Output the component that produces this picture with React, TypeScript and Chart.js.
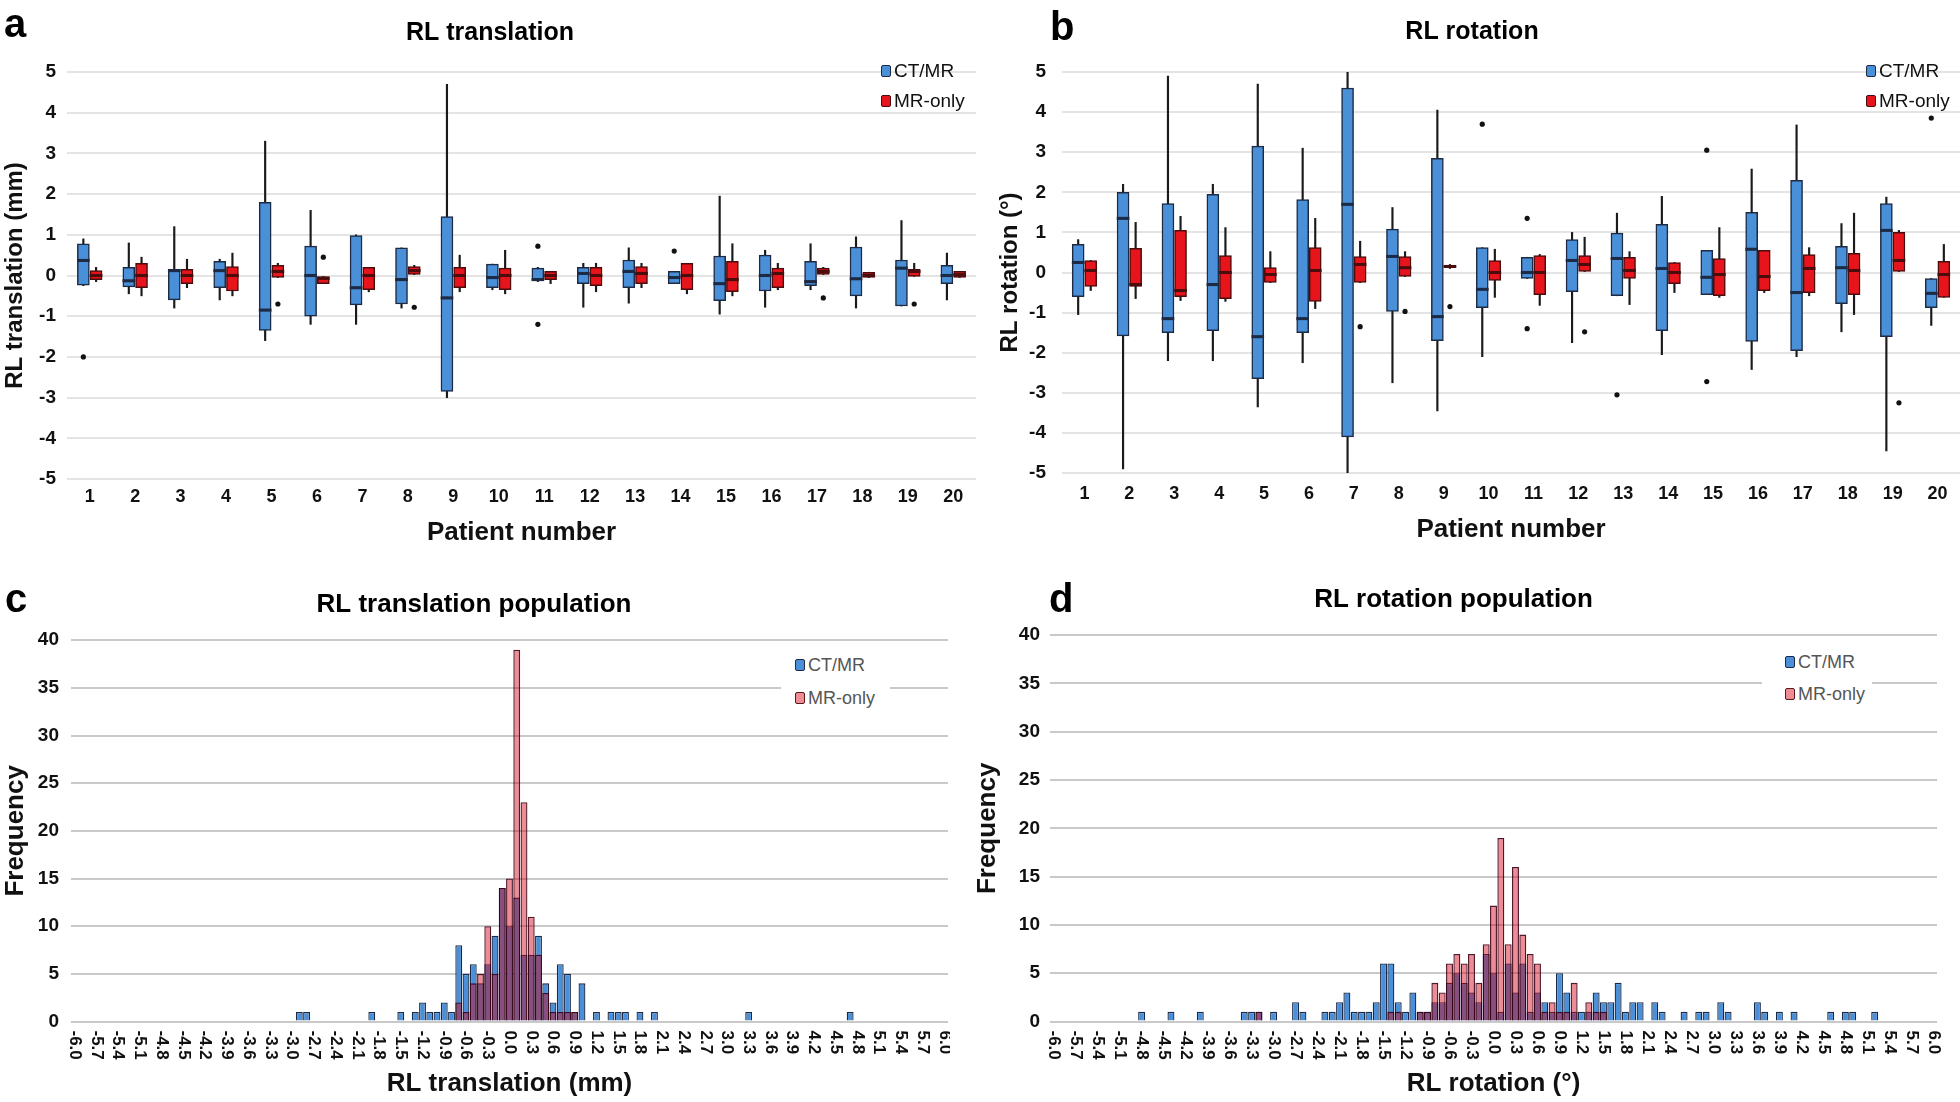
import React, { useEffect, useRef } from 'react';
import { Chart, registerables } from 'chart.js';

Chart.register(...registerables);

const FONT = "'Liberation Sans', Arial, Helvetica, sans-serif";
Chart.defaults.font.family = FONT;
Chart.defaults.color = '#111';

// ---------- Box plot data (panels a, b) ----------
const patients = [1, 2, 3, 4, 5, 6, 7, 8, 9, 10, 11, 12, 13, 14, 15, 16, 17, 18, 19, 20];

// a: RL translation, CT/MR
const transCtMin = [-0.25, -0.45, -0.8, -0.6, -1.6, -1.2, -1.2, -0.8, -3.0, -0.35, -0.15, -0.78, -0.68, -0.2, -0.95, -0.78, -0.35, -0.8, -0.75, -0.6];
const transCtQ1 = [-0.24, -0.28, -0.6, -0.3, -1.35, -1.0, -0.72, -0.7, -2.85, -0.3, -0.12, -0.2, -0.3, -0.2, -0.62, -0.38, -0.25, -0.5, -0.75, -0.2];
const transCtMed = [0.37, -0.13, 0.12, 0.12, -0.85, 0.0, -0.3, -0.1, -0.55, -0.05, -0.1, 0.05, 0.1, -0.05, -0.2, 0.0, -0.15, -0.08, 0.18, 0.0];
const transCtQ3 = [0.78, 0.2, 0.15, 0.35, 1.8, 0.72, 0.98, 0.68, 1.45, 0.28, 0.18, 0.2, 0.38, 0.1, 0.48, 0.5, 0.35, 0.7, 0.38, 0.25];
const transCtMax = [0.9, 0.8, 1.2, 0.4, 3.3, 1.6, 1.0, 0.68, 4.7, 0.28, 0.2, 0.3, 0.68, 0.1, 1.95, 0.62, 0.78, 0.95, 1.35, 0.55];
const transCtOutP = [1, 11, 11, 14];
const transCtOutV = [-2.0, 0.72, -1.2, 0.6];

// a: RL translation, MR-only
const transMrMin = [-0.15, -0.5, -0.3, -0.5, -0.05, -0.2, -0.4, 0.0, -0.4, -0.45, -0.2, -0.4, -0.3, -0.45, -0.5, -0.35, 0.0, -0.05, -0.02, -0.05];
const transMrQ1 = [-0.1, -0.3, -0.2, -0.38, -0.05, -0.2, -0.35, 0.0, -0.3, -0.35, -0.1, -0.25, -0.2, -0.35, -0.4, -0.3, 0.0, -0.05, -0.02, -0.05];
const transMrMed = [0.0, 0.0, 0.0, 0.0, 0.1, -0.07, 0.0, 0.12, 0.0, 0.0, 0.0, 0.0, 0.05, 0.0, -0.1, 0.05, 0.1, 0.0, 0.1, 0.02];
const transMrQ3 = [0.12, 0.3, 0.15, 0.22, 0.25, 0.0, 0.2, 0.22, 0.2, 0.18, 0.1, 0.2, 0.22, 0.3, 0.35, 0.18, 0.18, 0.08, 0.15, 0.1];
const transMrMax = [0.2, 0.45, 0.4, 0.55, 0.3, 0.0, 0.2, 0.25, 0.5, 0.62, 0.1, 0.3, 0.3, 0.3, 0.78, 0.3, 0.2, 0.08, 0.3, 0.1];
const transMrOutP = [5, 6, 8, 17, 19];
const transMrOutV = [-0.7, 0.45, -0.78, -0.55, -0.7];

// b: RL rotation, CT/MR
const rotCtMin = [-1.05, -4.9, -2.2, -2.2, -3.35, -2.25, -5.05, -2.75, -3.45, -2.1, -0.15, -1.75, -0.58, -2.05, -0.55, -2.42, -2.1, -1.48, -4.45, -1.32];
const rotCtQ1 = [-0.6, -1.58, -1.5, -1.45, -2.65, -1.5, -4.1, -0.97, -1.7, -0.88, -0.15, -0.48, -0.58, -1.45, -0.55, -1.72, -1.95, -0.78, -1.6, -0.88];
const rotCtMed = [0.25, 1.35, -1.15, -0.3, -1.6, -1.15, 1.7, 0.4, -1.1, -0.42, 0.0, 0.3, 0.35, 0.1, -0.12, 0.58, -0.5, 0.12, 1.05, -0.52];
const rotCtQ3 = [0.7, 2.0, 1.72, 1.95, 3.15, 1.82, 4.6, 1.08, 2.85, 0.62, 0.38, 0.82, 0.98, 1.2, 0.55, 1.5, 2.3, 0.65, 1.72, -0.15];
const rotCtMax = [0.82, 2.2, 4.9, 2.2, 4.7, 3.1, 5.05, 1.62, 4.05, 0.62, 0.38, 1.0, 1.48, 1.9, 0.55, 2.58, 3.68, 1.22, 1.88, -0.15];
const rotCtOutP = [10, 11, 11, 13, 15, 15, 20];
const rotCtOutV = [3.7, 1.35, -1.4, -3.05, 3.05, -2.72, 3.85];

// b: RL rotation, MR-only
const rotMrMin = [-0.45, -0.65, -0.7, -0.72, -0.25, -0.9, -0.25, -0.1, 0.1, -0.62, -0.82, 0.0, -0.8, -0.5, -0.62, -0.5, -0.58, -1.05, 0.0, -0.62];
const rotMrQ1 = [-0.35, -0.35, -0.6, -0.65, -0.25, -0.72, -0.25, -0.1, 0.12, -0.2, -0.55, 0.0, -0.15, -0.28, -0.58, -0.45, -0.5, -0.55, 0.0, -0.62];
const rotMrMed = [0.05, -0.3, -0.45, 0.0, -0.05, 0.05, 0.2, 0.12, 0.15, 0.0, 0.0, 0.2, 0.05, 0.0, -0.05, -0.1, 0.1, 0.05, 0.3, -0.05];
const rotMrQ3 = [0.3, 0.6, 1.05, 0.42, 0.12, 0.62, 0.4, 0.4, 0.18, 0.3, 0.42, 0.42, 0.38, 0.25, 0.35, 0.55, 0.45, 0.48, 1.0, 0.28];
const rotMrMax = [0.3, 1.25, 1.4, 1.12, 0.52, 1.35, 0.78, 0.52, 0.2, 0.58, 0.45, 0.88, 0.52, 0.25, 1.12, 0.55, 0.62, 1.48, 1.05, 0.7];
const rotMrOutP = [7, 8, 9, 12, 19];
const rotMrOutV = [-1.35, -0.97, -0.85, -1.48, -3.25];

// ---------- Histogram data (panels c, d) ----------
const binLabels = Array.from({ length: 121 }, (_, i) => ((i - 60) / 10).toFixed(1));

const transHistCtBins = [-2.9, -2.8, -1.9, -1.5, -1.3, -1.2, -1.1, -1.0, -0.9, -0.8, -0.7, -0.6, -0.5, -0.4, -0.3, -0.2, -0.1, 0.0, 0.1, 0.2, 0.3, 0.4, 0.5, 0.6, 0.7, 0.8, 0.9, 1.0, 1.2, 1.4, 1.5, 1.6, 1.8, 2.0, 3.3, 4.7];
const transHistCtCounts = [1, 1, 1, 1, 1, 2, 1, 1, 2, 1, 8, 5, 6, 4, 6, 9, 14, 10, 13, 7, 7, 9, 4, 2, 6, 5, 1, 4, 1, 1, 1, 1, 1, 1, 1, 1];
const transHistMrBins = [-0.7, -0.6, -0.5, -0.4, -0.3, -0.2, -0.1, 0.0, 0.1, 0.2, 0.3, 0.4, 0.5, 0.6, 0.7, 0.8, 0.9];
const transHistMrCounts = [2, 1, 4, 5, 10, 5, 14, 15, 39, 23, 11, 7, 3, 1, 1, 1, 1];

const rotHistCtBins = [-4.8, -4.4, -4.0, -3.4, -3.3, -3.2, -3.0, -2.7, -2.6, -2.3, -2.2, -2.1, -2.0, -1.9, -1.8, -1.7, -1.6, -1.5, -1.4, -1.3, -1.2, -1.1, -1.0, -0.9, -0.8, -0.7, -0.6, -0.5, -0.4, -0.3, -0.2, -0.1, 0.0, 0.1, 0.2, 0.3, 0.4, 0.5, 0.6, 0.7, 0.8, 0.9, 1.0, 1.1, 1.2, 1.3, 1.4, 1.5, 1.6, 1.7, 1.8, 1.9, 2.0, 2.2, 2.3, 2.6, 2.8, 2.9, 3.1, 3.2, 3.6, 3.7, 3.9, 4.1, 4.6, 4.8, 4.9, 5.2];
const rotHistCtCounts = [1, 1, 1, 1, 1, 1, 1, 2, 1, 1, 1, 2, 3, 1, 1, 1, 2, 6, 6, 2, 1, 3, 1, 1, 2, 2, 4, 5, 4, 3, 2, 7, 5, 1, 6, 3, 6, 1, 3, 2, 1, 5, 3, 1, 1, 1, 3, 2, 2, 4, 1, 2, 2, 2, 1, 1, 1, 1, 2, 1, 2, 1, 1, 1, 1, 1, 1, 1];
const rotHistMrBins = [-3.2, -1.4, -1.3, -1.0, -0.9, -0.8, -0.7, -0.6, -0.5, -0.4, -0.3, -0.2, -0.1, 0.0, 0.1, 0.2, 0.3, 0.4, 0.5, 0.6, 0.7, 0.8, 0.9, 1.0, 1.1, 1.3, 1.4, 1.5];
const rotHistMrCounts = [1, 1, 1, 1, 1, 4, 3, 6, 7, 6, 7, 4, 8, 12, 19, 8, 16, 9, 7, 6, 1, 2, 1, 1, 4, 2, 1, 1];

// ---------- Styling ----------
const BLUE = '#4a90d9';
const BLUE_EDGE = '#1d2a44';
const RED = '#e8141c';
const RED_EDGE = '#4a0c0c';
const HIST_BLUE = '#4a8fd8';
const HIST_BLUE_EDGE = '#1a2a48';
const HIST_RED = 'rgba(210,0,22,0.45)';
const HIST_RED_EDGE = 'rgba(60,0,20,0.9)';
const OFF = 0.14;

type Box = { min: number[]; q1: number[]; med: number[]; q3: number[]; max: number[]; outP: number[]; outV: number[] };

function fullCounts(bins: number[], counts: number[]) {
  const arr: (number | null)[] = binLabels.map(() => null);
  bins.forEach((b, i) => {
    const idx = binLabels.indexOf(b.toFixed(1) === '-0.0' ? '0.0' : b.toFixed(1));
    if (idx >= 0) arr[idx] = counts[i];
  });
  return arr;
}

function boxSeries(b: Box, off: number, fill: string, edge: string, label: string, orderBase: number) {
  return [
    {
      type: 'scatter', label: label + ' outliers',
      data: b.outP.map((p, i) => ({ x: p + off, y: b.outV[i] })),
      pointRadius: 2.6, backgroundColor: '#111', borderWidth: 0, order: 0 + orderBase,
    },
    {
      type: 'bar', label: label + ' median',
      data: patients.map((p, i) => ({ x: p + off, y: [b.med[i] - 0.03, b.med[i] + 0.03] })),
      backgroundColor: edge, barThickness: 12, grouped: false, order: 2 + orderBase,
    },
    {
      type: 'bar', label,
      data: patients.map((p, i) => ({ x: p + off, y: [b.q1[i], b.q3[i]] })),
      backgroundColor: fill, borderColor: edge, borderWidth: 1.5, borderSkipped: false,
      barThickness: 12, grouped: false, order: 4 + orderBase,
    },
    {
      type: 'bar', label: label + ' whisker',
      data: patients.map((p, i) => ({ x: p + off, y: [b.min[i], b.max[i]] })),
      backgroundColor: '#1a1a1a', barThickness: 1.5, grouped: false, order: 6 + orderBase,
    },
  ];
}

type BoxLayout = {
  title: string; yTitle: string; titlePadTop: number; titlePadBottom: number;
  yWidth: number; yTickPad: number; yTitlePad: number;
  xHeight: number; xTickPad: number; xTitlePad: number;
};

function boxConfig(ct: Box, mr: Box, L: BoxLayout): any {
  return {
    type: 'bar',
    data: { datasets: [...boxSeries(ct, -OFF, BLUE, BLUE_EDGE, 'CT/MR', 0), ...boxSeries(mr, OFF, RED, RED_EDGE, 'MR-only', 1)] },
    options: {
      animation: false, responsive: false, devicePixelRatio: 1, events: [],
      layout: { padding: { top: 0, left: 0, right: 0, bottom: 0 } },
      plugins: {
        legend: { display: false }, tooltip: { enabled: false },
        title: {
          display: true, text: L.title, color: '#000',
          font: { size: 25, weight: 'bold', family: FONT, lineHeight: 1.2 },
          padding: { top: L.titlePadTop, bottom: L.titlePadBottom },
        },
      },
      scales: {
        x: {
          type: 'linear', min: 0.5, max: 20.5, offset: false,
          afterBuildTicks: (s: any) => { s.ticks = patients.map((v) => ({ value: v })); },
          ticks: { autoSkip: false, maxRotation: 0, padding: L.xTickPad, color: '#111', font: { size: 18, weight: 'bold', lineHeight: 1.2 } },
          grid: { display: false, drawTicks: false }, border: { display: false },
          title: { display: true, text: 'Patient number', color: '#111', font: { size: 26, weight: 'bold', lineHeight: 1.2 }, padding: { top: 0, bottom: L.xTitlePad } },
          afterFit: (s: any) => { s.height = L.xHeight; },
        },
        y: {
          type: 'linear', min: -5, max: 5, stacked: false,
          ticks: { stepSize: 1, padding: L.yTickPad, color: '#111', font: { size: 19, weight: 'bold' } },
          grid: { color: '#e4e4e4', lineWidth: 2, drawTicks: false }, border: { display: false },
          title: { display: true, text: L.yTitle, color: '#111', font: { size: 24, weight: 'bold', lineHeight: 1.2 }, padding: { top: L.yTitlePad, bottom: 0 } },
          afterFit: (s: any) => { s.width = L.yWidth; },
        },
      },
    },
  };
}

const rotLabelsPlugin = {
  id: 'rotLabels',
  afterDraw(chart: any) {
    const xs = chart.scales.x;
    const ctx = chart.ctx;
    ctx.save();
    ctx.font = `bold 17px ${FONT}`;
    ctx.fillStyle = '#111';
    ctx.textAlign = 'left';
    ctx.textBaseline = 'middle';
    for (let i = 0; i < binLabels.length; i += 3) {
      const x = xs.getPixelForValue(i);
      ctx.save();
      ctx.translate(x, chart.chartArea.bottom + 9);
      ctx.rotate(Math.PI / 2);
      ctx.fillText(binLabels[i], 0, 0);
      ctx.restore();
    }
    ctx.restore();
  },
};

type HistLayout = {
  title: string; xTitle: string; titlePadTop: number; titlePadBottom: number; rightPad: number;
  yWidth: number; yTickPad: number; yTitlePad: number; xHeight: number; xTitlePad: number;
};

function histConfig(ct: (number | null)[], mr: (number | null)[], L: HistLayout): any {
  return {
    type: 'bar',
    data: {
      labels: binLabels,
      datasets: [
        { label: 'CT/MR', data: ct, backgroundColor: HIST_BLUE, borderColor: HIST_BLUE_EDGE, borderWidth: 1.3, grouped: false, barPercentage: 0.95, categoryPercentage: 1, order: 1 },
        { label: 'MR-only', data: mr, backgroundColor: HIST_RED, borderColor: HIST_RED_EDGE, borderWidth: 1.3, grouped: false, barPercentage: 0.95, categoryPercentage: 1, order: 0 },
      ],
    },
    plugins: [rotLabelsPlugin],
    options: {
      animation: false, responsive: false, devicePixelRatio: 1, events: [],
      layout: { padding: { top: 0, left: 0, right: L.rightPad, bottom: 0 } },
      plugins: {
        legend: { display: false }, tooltip: { enabled: false },
        title: {
          display: true, text: L.title, color: '#000',
          font: { size: 26, weight: 'bold', family: FONT, lineHeight: 1.2 },
          padding: { top: L.titlePadTop, bottom: L.titlePadBottom },
        },
      },
      scales: {
        x: {
          ticks: { display: false }, grid: { display: false, drawTicks: false }, border: { display: false },
          title: { display: true, text: L.xTitle, color: '#111', font: { size: 26, weight: 'bold', lineHeight: 1.2 }, padding: { top: 0, bottom: L.xTitlePad } },
          afterFit: (s: any) => { s.height = L.xHeight; },
        },
        y: {
          min: 0, max: 40,
          ticks: { stepSize: 5, padding: L.yTickPad, color: '#111', font: { size: 19, weight: 'bold' } },
          grid: { color: '#c9c9c9', lineWidth: 2, drawTicks: false }, border: { display: false },
          title: { display: true, text: 'Frequency', color: '#111', font: { size: 26, weight: 'bold', lineHeight: 1.2 }, padding: { top: L.yTitlePad, bottom: 0 } },
          afterFit: (s: any) => { s.width = L.yWidth; },
        },
      },
    },
  };
}

function ChartCanvas(props: { left: number; top: number; width: number; height: number; make: () => any }) {
  const ref = useRef<HTMLCanvasElement | null>(null);
  useEffect(() => {
    const chart = new Chart(ref.current as HTMLCanvasElement, props.make());
    return () => chart.destroy();
  }, []);
  const { left, top, width, height } = props;
  return <canvas ref={ref} width={width} height={height} style={{ position: 'absolute', left, top, width, height }} />;
}

function Legend(props: { left: number; top: number; fill1: string; edge1: string; fill2: string; edge2: string; size: number; color: string; gap: number }) {
  const row = (fill: string, edge: string, text: string, y: number) => (
    <div style={{ position: 'absolute', left: 0, top: y, display: 'flex', alignItems: 'center', whiteSpace: 'nowrap' }}>
      <span style={{ display: 'inline-block', width: 8, height: 10, background: fill, border: `1.5px solid ${edge}`, borderRadius: 2, marginRight: 3 }} />
      <span style={{ fontFamily: FONT, fontSize: props.size, color: props.color, lineHeight: 1 }}>{text}</span>
    </div>
  );
  return (
    <div style={{ position: 'absolute', left: props.left, top: props.top }}>
      {row(props.fill1, props.edge1, 'CT/MR', 0)}
      {row(props.fill2, props.edge2, 'MR-only', props.gap)}
    </div>
  );
}

const letterStyle = (left: number, top: number): React.CSSProperties => ({
  position: 'absolute', left, top, fontFamily: FONT, fontWeight: 'bold', fontSize: 40, lineHeight: '40px', color: '#000',
});

const transCt: Box = { min: transCtMin, q1: transCtQ1, med: transCtMed, q3: transCtQ3, max: transCtMax, outP: transCtOutP, outV: transCtOutV };
const transMr: Box = { min: transMrMin, q1: transMrQ1, med: transMrMed, q3: transMrQ3, max: transMrMax, outP: transMrOutP, outV: transMrOutV };
const rotCt: Box = { min: rotCtMin, q1: rotCtQ1, med: rotCtMed, q3: rotCtQ3, max: rotCtMax, outP: rotCtOutP, outV: rotCtOutV };
const rotMr: Box = { min: rotMrMin, q1: rotMrQ1, med: rotMrMed, q3: rotMrQ3, max: rotMrMax, outP: rotMrOutP, outV: rotMrOutV };

export default function App() {
  return (
    <div style={{ position: 'absolute', left: 0, top: 0, width: 1960, height: 1102, overflow: 'hidden', background: '#fff' }}>
      <ChartCanvas left={0} top={0} width={980} height={560}
        make={() => boxConfig(transCt, transMr, {
          title: 'RL translation', yTitle: 'RL translation (mm)', titlePadTop: 18, titlePadBottom: 24,
          yWidth: 67, yTickPad: 11, yTitlePad: 1, xHeight: 81, xTickPad: 7, xTitlePad: 12,
        })} />
      <ChartCanvas left={980} top={0} width={984} height={560}
        make={() => boxConfig(rotCt, rotMr, {
          title: 'RL rotation', yTitle: 'RL rotation (°)', titlePadTop: 17, titlePadBottom: 25,
          yWidth: 82, yTickPad: 16, yTitlePad: 16, xHeight: 87, xTickPad: 10, xTitlePad: 15,
        })} />
      <ChartCanvas left={0} top={560} width={950} height={542}
        make={() => histConfig(fullCounts(transHistCtBins, transHistCtCounts), fullCounts(transHistMrBins, transHistMrCounts), {
          title: 'RL translation population', xTitle: 'RL translation (mm)', titlePadTop: 29, titlePadBottom: 20, rightPad: 2,
          yWidth: 71, yTickPad: 12, yTitlePad: 0, xHeight: 80.5, xTitlePad: 3,
        })} />
      <ChartCanvas left={970} top={560} width={980} height={542}
        make={() => histConfig(fullCounts(rotHistCtBins, rotHistCtCounts), fullCounts(rotHistMrBins, rotHistMrCounts), {
          title: 'RL rotation population', xTitle: 'RL rotation (°)', titlePadTop: 24, titlePadBottom: 20, rightPad: 13,
          yWidth: 80, yTickPad: 10, yTitlePad: 2, xHeight: 80.5, xTitlePad: 3,
        })} />

      <Legend left={881} top={61} fill1={BLUE} edge1={BLUE_EDGE} fill2={RED} edge2={RED_EDGE} size={19} color="#111" gap={30} />
      <Legend left={1866} top={61} fill1={BLUE} edge1={BLUE_EDGE} fill2={RED} edge2={RED_EDGE} size={19} color="#111" gap={30} />

      <div style={{ position: 'absolute', left: 781, top: 650, width: 109, height: 66, background: '#fff' }} />
      <Legend left={795} top={656} fill1={HIST_BLUE} edge1={HIST_BLUE_EDGE} fill2="#ef8b92" edge2="#5a1a22" size={18} color="#555" gap={33} />
      <div style={{ position: 'absolute', left: 1762, top: 645, width: 110, height: 66, background: '#fff' }} />
      <Legend left={1785} top={653} fill1={HIST_BLUE} edge1={HIST_BLUE_EDGE} fill2="#ef8b92" edge2="#5a1a22" size={18} color="#555" gap={32} />

      <div style={letterStyle(4, 3)}>a</div>
      <div style={letterStyle(1050, 6)}>b</div>
      <div style={letterStyle(5, 578)}>c</div>
      <div style={letterStyle(1049, 578)}>d</div>
    </div>
  );
}
